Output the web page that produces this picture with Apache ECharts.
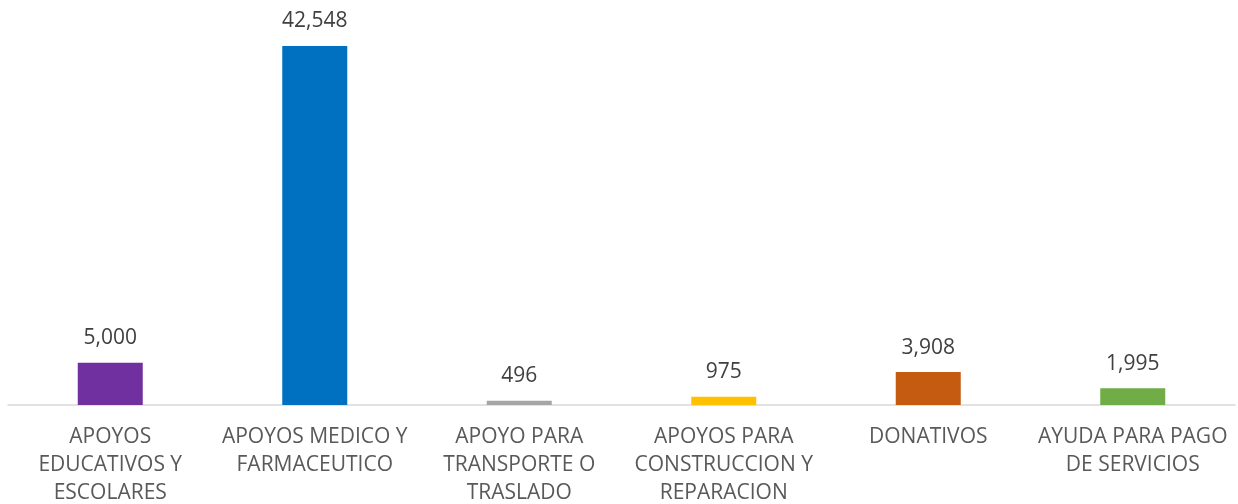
<!DOCTYPE html>
<html>
<head>
<meta charset="utf-8">
<script src="https://cdn.jsdelivr.net/npm/echarts@6/dist/echarts.min.js"></script>
<style>
  html, body { margin: 0; padding: 0; background: #fff; }
  #chart { width: 1238px; height: 504px; }
</style>
</head>
<body>
<div id="chart"></div>
<script>
const categories = [
  "APOYOS EDUCATIVOS Y ESCOLARES",
  "APOYOS MEDICO Y FARMACEUTICO",
  "APOYO PARA TRANSPORTE O TRASLADO",
  "APOYOS PARA CONSTRUCCION Y REPARACION",
  "DONATIVOS",
  "AYUDA PARA PAGO DE SERVICIOS"
];
// tick labels as wrapped in the picture
const tickLabels = [
  "APOYOS\nEDUCATIVOS Y\nESCOLARES",
  "APOYOS MEDICO Y\nFARMACEUTICO",
  "APOYO PARA\nTRANSPORTE O\nTRASLADO",
  "APOYOS PARA\nCONSTRUCCION Y\nREPARACION",
  "DONATIVOS",
  "AYUDA PARA PAGO\nDE SERVICIOS"
];
const values = [5000, 42548, 496, 975, 3908, 1995];
const barColors = ["#7030A0", "#0070C0", "#A5A5A5", "#FFC000", "#C55A11", "#70AD47"];

const myChart = echarts.init(document.getElementById("chart"));
const font = '"Open Sans", sans-serif';
let option = {
  animation: false,
  grid: { left: 8, right: 3, top: 0, bottom: 99, outerBoundsMode: "none", containLabel: false },
  xAxis: {
    type: "category",
    data: categories,
    axisTick: { show: false },
    axisLine: { lineStyle: { color: "#D9D9D9", width: 1.5 } },
    axisLabel: {
      interval: 0,
      margin: 18,
      color: "#595959",
      fontFamily: font,
      fontSize: 21,
      lineHeight: 28,
      formatter: (v, i) => tickLabels[i]
    }
  },
  yAxis: {
    type: "value",
    min: 0,
    max: 48000,
    show: false,
    splitLine: { show: false }
  },
  series: [{
    type: "bar",
    barWidth: 65,
    data: values.map((v, i) => ({ value: v, itemStyle: { color: barColors[i] } })),
    label: {
      show: true,
      position: "top",
      distance: 14,
      color: "#404040",
      fontFamily: font,
      fontSize: 21,
      formatter: (p) => p.value.toLocaleString("en-US")
    }
  }]
};
option && myChart.setOption(option);
</script>
</body>
</html>
